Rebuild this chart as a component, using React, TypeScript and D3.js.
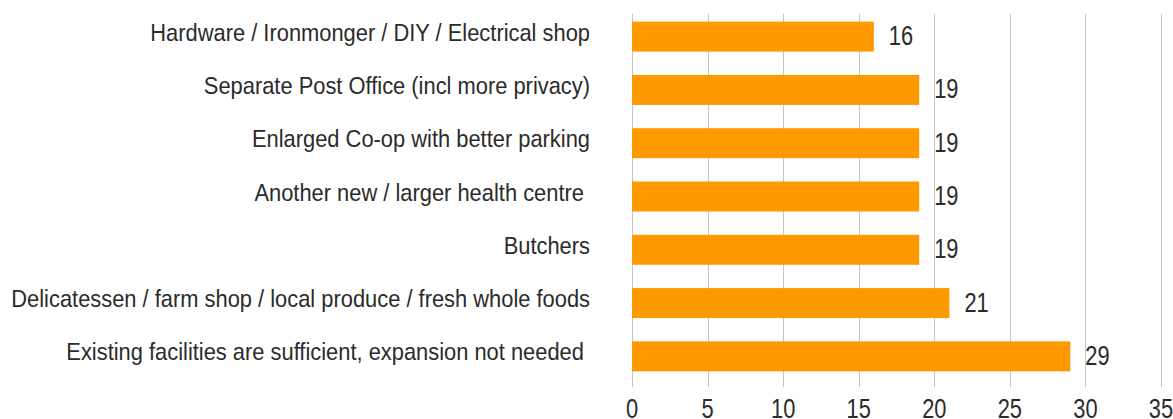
import React from "react";
import * as d3 from "d3";

const categories = [
  "Hardware / Ironmonger / DIY / Electrical shop",
  "Separate Post Office (incl more privacy)",
  "Enlarged Co-op with better parking",
  "Another new / larger health centre ",
  "Butchers",
  "Delicatessen / farm shop / local produce / fresh whole foods",
  "Existing facilities are sufficient, expansion not needed ",
];
const values = [16, 19, 19, 19, 19, 21, 29];
const xTicks = [0, 5, 10, 15, 20, 25, 30, 35];

const W = 1173;
const H = 419;

export default function App() {
  const x = d3.scaleLinear().domain([0, 35]).range([632, 1161]);
  const y = d3
    .scaleBand<string>()
    .domain(categories)
    .range([10, 383])
    .paddingInner(0.4375)
    .paddingOuter(0.21875);
  const font = "'Liberation Sans', Arial, Helvetica, sans-serif";
  return (
    <svg
      width={W}
      height={H}
      style={{ position: "absolute", left: 0, top: 0, background: "#fff" }}
    >
      <g>
        {xTicks.map((t) => (
          <line
            key={t}
            x1={Math.round(x(t)) + 0.5}
            x2={Math.round(x(t)) + 0.5}
            y1={14}
            y2={387}
            stroke="#c4c4c4"
            strokeWidth={1}
          />
        ))}
      </g>
      <g>
        {categories.map((c, i) => (
          <rect
            key={c}
            x={x(0)}
            y={y(c)!}
            width={x(values[i]) - x(0)}
            height={y.bandwidth()}
            fill="#ff9900"
          />
        ))}
      </g>
      <g fill="#2b2b2b" fontFamily={font}>
        {categories.map((c) => (
          <text
            key={c}
            transform={`translate(590,${y(c)! + y.bandwidth() / 2 + 4}) scale(0.912,1)`}
            textAnchor="end"
            fontSize={24}
            style={{ whiteSpace: "pre" }}
          >
            {c}
          </text>
        ))}
        {categories.map((c, i) => (
          <text
            key={"v" + c}
            transform={`translate(${x(values[i]) + 15},${y(c)! + y.bandwidth() / 2 + 8.5}) scale(0.78,1)`}
            fontSize={28}
          >
            {values[i]}
          </text>
        ))}
        {xTicks.map((t) => (
          <text
            key={"t" + t}
            transform={`translate(${x(t)},418) scale(0.78,1)`}
            textAnchor="middle"
            fontSize={28}
          >
            {t}
          </text>
        ))}
      </g>
    </svg>
  );
}
